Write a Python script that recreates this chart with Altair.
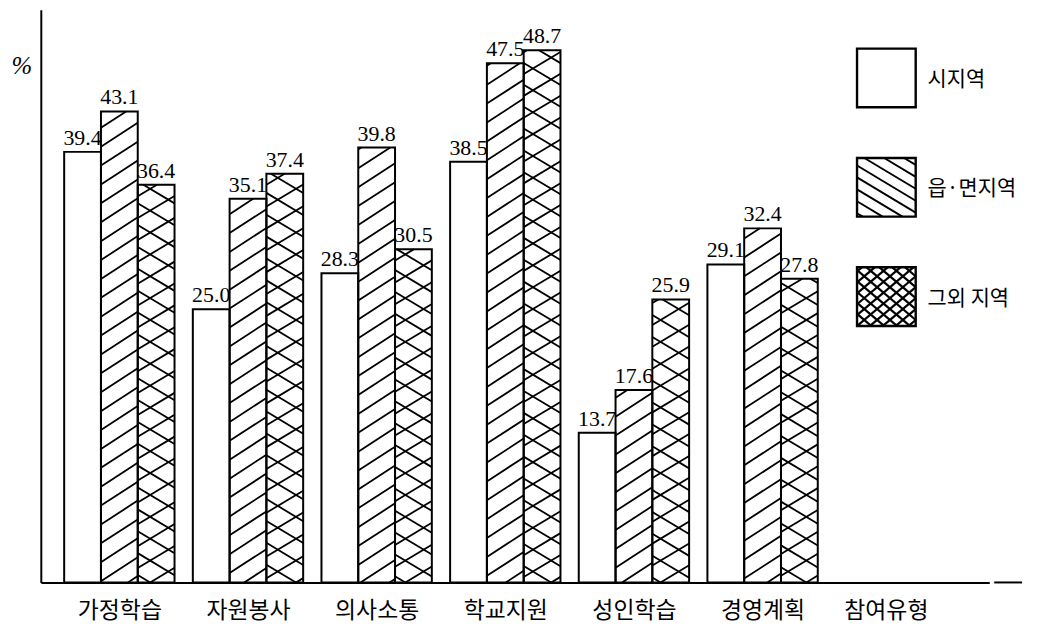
import json
import numpy as np
import pandas as pd
import altair as alt

# ---------------- data ----------------
categories = ["가정학습", "자원봉사", "의사소통", "학교지원", "성인학습", "경영계획"]
series = ["시지역", "읍·면지역", "그외 지역"]
city = [39.4, 25.0, 28.3, 38.5, 13.7, 29.1]
town = [43.1, 35.1, 39.8, 47.5, 17.6, 32.4]
other = [36.4, 37.4, 30.5, 48.7, 25.9, 27.8]
x_title = "참여유형"
y_unit = "%"

values = [city, town, other]

# ---------------- layout ----------------
W, H = 954, 576
PX_PER_CAT = 129.4
FIRST_CENTER_PX = 79
BAR_PX = 37
YMAX = 52.4

x0 = -FIRST_CENTER_PX / PX_PER_CAT
x1 = x0 + W / PX_PER_CAT
ky = H / YMAX
bw = BAR_PX / PX_PER_CAT


def px2x(px):
    return x0 + px / PX_PER_CAT


def x2px(x):
    return (x - x0) * PX_PER_CAT


def py2y(py):  # pixels measured up from the baseline
    return py / ky


# hatch styles: list of (slope in y-up pixels, vertical spacing px, stroke width)
BAR_HATCH = [[], [(0.65, 19, 1.8)], [(0.6, 22, 1.8), (-0.6, 22, 1.8)]]
LEG_HATCH = [[], [(-0.6, 12, 1.9)], [(0.85, 11, 2.2), (-0.85, 11, 2.2)]]


def hatch(L, R, B, T, s, d):
    corners = [(L, B), (L, T), (R, B), (R, T)]
    cs = [y - s * x for x, y in corners]
    segs = []
    for k in range(int(np.ceil(min(cs) / d)), int(np.floor(max(cs) / d)) + 1):
        c = k * d
        xa, xb = sorted([(B - c) / s, (T - c) / s])
        lo, hi = max(L, xa), min(R, xb)
        if hi - lo > 0.5:
            segs.append((lo, s * lo + c, hi, s * hi + c))
    return segs


rects = []
rules = []
labels = []
for i, cat in enumerate(categories):
    for j, ser in enumerate(series):
        v = values[j][i]
        c = i + (j - 1) * bw
        left, right = c - bw / 2, c + bw / 2
        rects.append(dict(x=left, x2=right, y=v, y2=0.0, sw=2.0))
        labels.append(dict(xc=c, v=v, label=f"{v:.1f}"))
        L, R = x2px(left), x2px(right)
        for s, d, w in BAR_HATCH[j]:
            for a, b, cc, dd in hatch(L, R, 0.0, v * ky, s, d):
                rules.append(dict(x=px2x(a), y=py2y(b), x2=px2x(cc), y2=py2y(dd), sw=w))

# legend (in plot pixels from the top-left)
LEG_LEFT, LEG_SIZE, LEG_TOP0, LEG_STEP, LEG_TEXT_GAP = 821, 59, 39, 110, 12
legend_text = []
for j, ser in enumerate(series):
    top = LEG_TOP0 + j * LEG_STEP
    L, R = LEG_LEFT, LEG_LEFT + LEG_SIZE
    T, B = H - top, H - top - LEG_SIZE
    rects.append(dict(x=px2x(L), x2=px2x(R), y=py2y(T), y2=py2y(B), sw=2.4))
    legend_text.append(dict(xc=px2x(R + LEG_TEXT_GAP), v=py2y((T + B) / 2 - 2), label=ser))
    for s, d, w in LEG_HATCH[j]:
        for a, b, cc, dd in hatch(L, R, B, T, s, d):
            rules.append(dict(x=px2x(a), y=py2y(b), x2=px2x(cc), y2=py2y(dd), sw=w))

rect_df = pd.DataFrame(rects)
rule_df = pd.DataFrame(rules)
label_df = pd.DataFrame(labels)
legend_df = pd.DataFrame(legend_text)
dash_df = pd.DataFrame([dict(x=px2x(W + 5), x2=px2x(W + 33), y=0.0, y2=0.0, sw=2.0)])

xs = alt.Scale(domain=[x0, x1], nice=False, zero=False)
ys = alt.Scale(domain=[0, YMAX], nice=False, zero=False)

KFONT = "Noto Sans CJK KR"
NFONT = "Liberation Serif"

xaxis = alt.Axis(
    values=list(range(len(categories))),
    labelExpr=f"{json.dumps(categories, ensure_ascii=False)}[datum.value]",
    ticks=False, tickSize=0, grid=False,
    domainColor="black", domainWidth=2,
    labelFont=KFONT, labelFontSize=23, labelColor="black", labelPadding=17,
    labelOverlap=False, labelFlush=False,
    title=x_title, titleX=850, titleY=17, titleAlign="center", titleBaseline="top",
    titleFont=KFONT, titleFontSize=23, titleFontWeight="normal", titleColor="black",
)
yaxis = alt.Axis(labels=False, ticks=False, grid=False, title=None,
                 domainColor="black", domainWidth=2)


def enc_rect():
    return dict(
        x=alt.X("x:Q", scale=xs, axis=xaxis),
        x2="x2:Q",
        y=alt.Y("y:Q", scale=ys, axis=yaxis),
        y2="y2:Q",
    )


fill = alt.Chart(rect_df).mark_rect(fill="white", strokeWidth=0).encode(**enc_rect())
hatch_layer = alt.Chart(rule_df).mark_rule(color="black").encode(
    **enc_rect(), strokeWidth=alt.StrokeWidth("sw:Q", scale=None)
)
outline = alt.Chart(rect_df).mark_rect(fillOpacity=0, stroke="black").encode(
    **enc_rect(), strokeWidth=alt.StrokeWidth("sw:Q", scale=None)
)
dash = alt.Chart(dash_df).mark_rule(color="black").encode(
    **enc_rect(), strokeWidth=alt.StrokeWidth("sw:Q", scale=None)
)

value_text = alt.Chart(label_df).mark_text(
    font=NFONT, fontSize=22, color="black", baseline="bottom", align="center", dy=-2
).encode(
    x=alt.X("xc:Q", scale=xs, axis=xaxis),
    y=alt.Y("v:Q", scale=ys, axis=yaxis),
    text="label:N",
)

leg_text = alt.Chart(legend_df).mark_text(
    font=KFONT, fontSize=21, color="black", baseline="middle", align="left"
).encode(
    x=alt.X("xc:Q", scale=xs, axis=xaxis),
    y=alt.Y("v:Q", scale=ys, axis=yaxis),
    text="label:N",
)

unit_text = alt.Chart(pd.DataFrame({"t": [y_unit]})).mark_text(
    font=NFONT, fontSize=25, fontStyle="italic", color="black",
    baseline="middle", align="center"
).encode(x=alt.value(-19), y=alt.value(57), text="t:N")

chart = alt.layer(
    fill, hatch_layer, outline, dash, value_text, leg_text, unit_text
).properties(
    width=W, height=H,
    autosize=alt.AutoSizeParams(type="none"),
    padding={"left": 33, "top": 0, "right": 45, "bottom": 45},
    background="white",
).configure_view(stroke=None)

chart.save("out.html", embed_options={"renderer": "svg", "actions": False})
